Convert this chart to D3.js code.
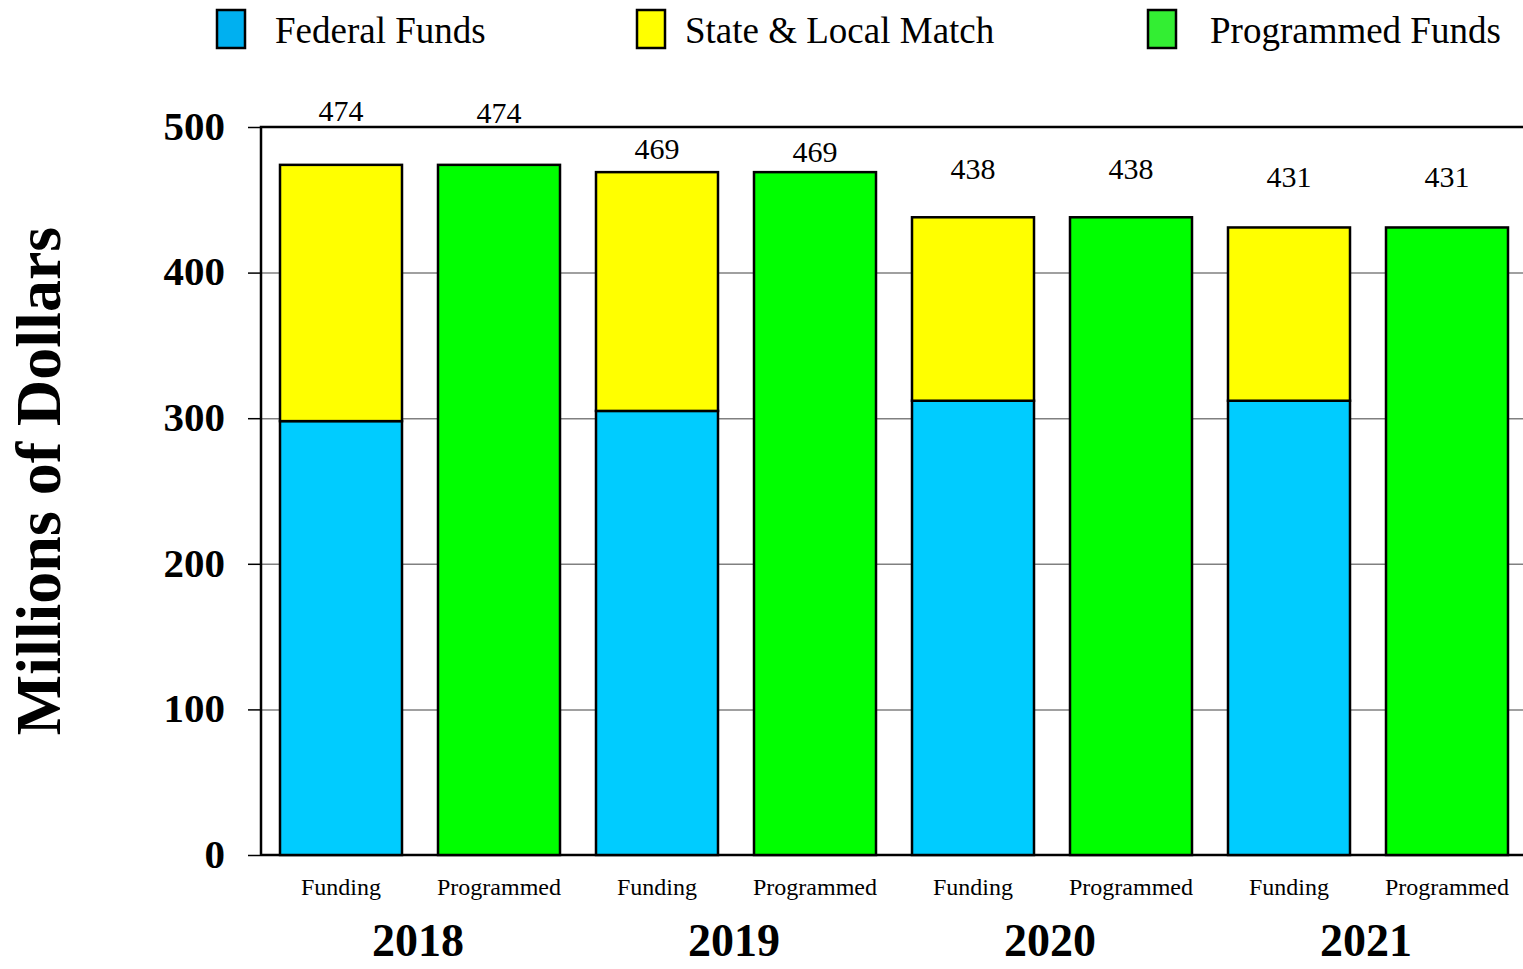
<!DOCTYPE html>
<html>
<head>
<meta charset="utf-8">
<script src="https://cdn.jsdelivr.net/npm/d3@7"></script>
<style>
  body{margin:0;background:#fff;}
  svg{display:block;font-family:"Liberation Serif","Times New Roman",serif;}
</style>
</head>
<body>
<svg id="chart" width="1523" height="969"></svg>
<script>
// data
var years=["2018","2019","2020","2021"];
var barKinds=["Funding","Programmed"];
var federal=[298,305,312,312];
var stateMatch=[176,164,126,119];
var programmed=[474,469,438,431];
var yTicks=[0,100,200,300,400,500];
var legendNames=["Federal Funds","State & Local Match","Programmed Funds"];

// label lift above bar top (px), funding/programmed per year
var labelLift=[44,42,13,10,38,38,40,40];

var svg=d3.select("#chart"),
 margin={top:127,left:261,bottom:114},
 width=1264,
 height=969-margin.top-margin.bottom;

var g=svg.append("g").attr("transform","translate("+margin.left+","+margin.top+")");

var bars=[];
years.forEach(function(yr,i){
  bars.push({year:yr,kind:"Funding",fed:federal[i],match:stateMatch[i],total:federal[i]+stateMatch[i]});
  bars.push({year:yr,kind:"Programmed",prog:programmed[i],total:programmed[i]});
});

var x=d3.scaleBand()
  .domain(bars.map(function(d){return d.year+"-"+d.kind;}))
  .range([1,width+1])
  .paddingInner(36/158)
  .paddingOuter(18/158);

var y=d3.scaleLinear().domain([0,500]).range([height,0]);

// grid
g.append("g")
  .call(d3.axisLeft(y).tickValues([100,200,300,400]).tickSize(-width).tickFormat(""))
  .call(function(s){s.select(".domain").remove();})
  .selectAll("line").attr("stroke","#808080").attr("stroke-width",1.5);

// y axis
var yaxis=g.append("g")
  .call(d3.axisLeft(y).tickValues(yTicks).tickSize(13).tickPadding(23).tickFormat(d3.format("d")));
yaxis.select(".domain").remove();
yaxis.selectAll("line").attr("stroke","#000").attr("stroke-width",1.5);
yaxis.selectAll("text")
  .attr("font-family","Liberation Serif")
  .attr("font-size",41)
  .attr("font-weight","bold")
  .attr("fill","#000")
  .attr("dy","0.3em");

// frame
g.append("path")
  .attr("d","M0,"+height+"V0H"+width)
  .attr("fill","none").attr("stroke","#000").attr("stroke-width",2.5);
g.append("line")
  .attr("x1",0).attr("x2",width).attr("y1",height).attr("y2",height)
  .attr("stroke","#000").attr("stroke-width",2.5);

var bw=x.bandwidth();

function rect(sel,key,y0,y1,fill){
  sel.append("rect")
    .attr("x",x(key))
    .attr("width",bw)
    .attr("y",y(y1))
    .attr("height",y(y0)-y(y1))
    .attr("fill",fill)
    .attr("stroke","#000")
    .attr("stroke-width",2.5);
}

var barG=g.append("g");
bars.forEach(function(d){
  var key=d.year+"-"+d.kind;
  if(d.kind=="Funding"){
    rect(barG,key,0,d.fed,"#00ccff");
    rect(barG,key,d.fed,d.fed+d.match,"#ffff00");
  }else{
    rect(barG,key,0,d.prog,"#00ff00");
  }
});

// value labels
g.append("g").selectAll("text")
  .data(bars)
  .enter().append("text")
  .attr("x",function(d){return x(d.year+"-"+d.kind)+bw/2;})
  .attr("y",function(d,i){return y(d.total)-labelLift[i];})
  .attr("text-anchor","middle")
  .attr("font-size",30)
  .attr("fill","#000")
  .text(function(d){return d.total;});

// category labels
g.append("g").selectAll("text")
  .data(bars)
  .enter().append("text")
  .attr("x",function(d){return x(d.year+"-"+d.kind)+bw/2;})
  .attr("y",height+40)
  .attr("text-anchor","middle")
  .attr("font-size",24)
  .attr("fill","#000")
  .text(function(d){return d.kind;});

// year labels
g.append("g").selectAll("text")
  .data(years)
  .enter().append("text")
  .attr("x",function(d){
    return (x(d+"-Funding")+x(d+"-Programmed")+bw)/2-2;
  })
  .attr("y",height+101)
  .attr("text-anchor","middle")
  .attr("font-size",46)
  .attr("font-weight","bold")
  .attr("fill","#000")
  .text(function(d){return d;});

// y title
svg.append("text")
  .attr("transform","translate(60,481) rotate(-90)")
  .attr("text-anchor","middle")
  .attr("font-size",64)
  .attr("font-weight","bold")
  .attr("fill","#000")
  .text("Millions of Dollars");

// legend
var legendX=[217,637,1148],
 legendColors=["#00b0f0","#ffff00","#33ee33"];
var leg=svg.append("g").selectAll("g")
  .data(legendNames)
  .enter().append("g")
  .attr("transform",function(d,i){return "translate("+legendX[i]+",10)";});
leg.append("rect")
  .attr("width",28).attr("height",38)
  .attr("fill",function(d,i){return legendColors[i];})
  .attr("stroke","#000").attr("stroke-width",2.5);
leg.append("text")
  .attr("x",function(d,i){return i==1?48:i==2?62:58;})
  .attr("y",33)
  .attr("font-size",37)
  .attr("fill","#000")
  .text(function(d){return d;});
</script>
</body>
</html>
